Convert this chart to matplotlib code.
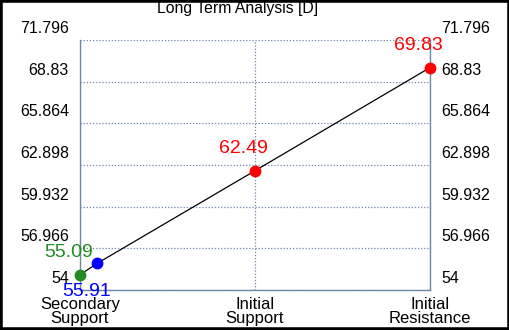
import matplotlib
matplotlib.use("Agg")
import matplotlib.pyplot as plt
from matplotlib.transforms import ScaledTranslation
from matplotlib.patches import Rectangle

plt.rcParams['font.family'] = ['Liberation Sans', 'DejaVu Sans']

categories = ["Secondary\nSupport", "Initial\nSupport", "Initial\nResistance"]
point_x = [0, 0.1, 1, 2]
point_y = [55.09, 55.91, 62.49, 69.83]
point_labels = ["55.09", "55.91", "62.49", "69.83"]
point_colors = ["#228B22", "#0000FF", "#FF0000", "#FF0000"]
yticks = [54, 56.966, 59.932, 62.898, 65.864, 68.83, 71.796]
ytick_labels = ["54", "56.966", "59.932", "62.898", "65.864", "68.83", "71.796"]
title = "Long Term Analysis [D]"

W, H = 510, 330
fig = plt.figure(figsize=(W / 100, H / 100), dpi=100)
fig.patch.set_facecolor("white")
ax = fig.add_axes([80 / W, (H - 290) / H, 350 / W, 250 / H])

ax.set_xlim(0, 2)
ax.set_ylim(54, 71.796)

sc = "#7088A8"
ax.plot(point_x, point_y, color="black", lw=0.9, zorder=3)
for x, y, c in zip(point_x, point_y, point_colors):
    ax.plot([x], [y], 'o', color=c, ms=7.5, zorder=4, clip_on=False)

# offsets in pixels (dx right, dy up)
offsets = [(-11, 22), (-11, -28), (-12, 22), (-12, 22)]
for x, y, t, c, (dx, dy) in zip(point_x, point_y, point_labels, point_colors, offsets):
    ax.annotate(t, (x, y), xytext=(dx * 0.72, dy * 0.72), textcoords="offset points",
                ha="center", va="center", color=c, fontsize=14, zorder=5,
                annotation_clip=False)

ax.set_yticks(yticks)
ax.set_yticklabels(ytick_labels)
ax.set_xticks([0, 1, 2])
ax.set_xticklabels(categories, fontsize=12, linespacing=0.9)
ax.tick_params(axis='y', which='both', length=0, labelsize=11.5, pad=8,
               left=True, right=True, labelleft=True, labelright=True)
ax.tick_params(axis='x', length=0, pad=5)

shift = ScaledTranslation(0, 13 / 100, fig.dpi_scale_trans)
for t in ax.yaxis.get_major_ticks():
    t.label1.set_transform(ax.get_yaxis_text1_transform(8)[0] + shift)
    t.label2.set_transform(ax.get_yaxis_text2_transform(8)[0] + shift)

ax.grid(True, color=sc, linestyle=(0, (1, 1.5)), lw=0.9)
for s in ["left", "right", "bottom"]:
    ax.spines[s].set_color(sc)
    ax.spines[s].set_linewidth(1)
ax.spines["top"].set_visible(False)

fig.text(238 / W, 1 - 9 / H, title, ha="center", va="center", fontsize=11.3)

fig.patches.append(Rectangle((0, 0), 1, 1, transform=fig.transFigure, fill=False,
                             edgecolor="black", lw=4, zorder=10))

fig.savefig("out.png", dpi=100)
